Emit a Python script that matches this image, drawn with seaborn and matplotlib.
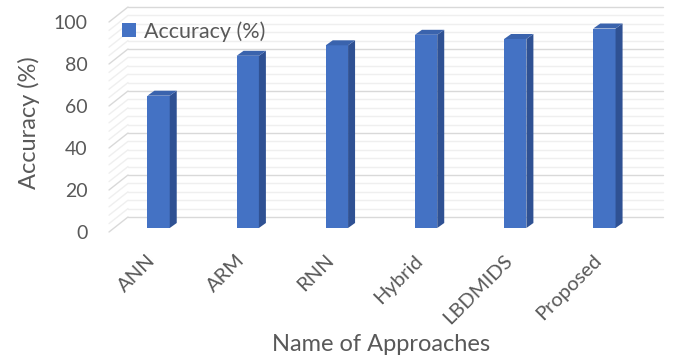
import numpy as np
import pandas as pd
import matplotlib
matplotlib.use('Agg')
import matplotlib.pyplot as plt
import seaborn as sns
from matplotlib.lines import Line2D
from matplotlib.patches import Polygon
from matplotlib.transforms import ScaledTranslation, IdentityTransform

# =====================================
# DATA
# =====================================

approaches = ['ANN', 'ARM', 'RNN', 'Hybrid', 'LBDMIDS', 'Proposed']
accuracy = [63, 82, 87, 92, 90, 95]
y_ticks = [0, 20, 40, 60, 80, 100]

df = pd.DataFrame({'Approach': approaches, 'Accuracy': accuracy})

# =====================================
# STYLE
# =====================================

sns.set_style('white')
plt.rcParams['font.family'] = ['Lato', 'DejaVu Sans']

text_col = '#595959'
front_col = '#4472c4'
side_col = '#2f5193'
top_col = '#3a63ad'

W, H = 683, 361
fig = plt.figure(figsize=(W / 100, H / 100), dpi=100)

# axes = plane of the bar fronts (pixels)
left, right, bottom, top = 114, 649, 228, 18
ax = fig.add_axes([left / W, 1 - bottom / H, (right - left) / W, (bottom - top) / H])

# back wall offset (px) and floor front offset (px)
back_dx, back_dy = 14, 11
front_dx, front_dy = -5, -4

# =====================================
# BACK WALL GRID
# =====================================

back_tr = ax.transData + ScaledTranslation(back_dx / 100, back_dy / 100, fig.dpi_scale_trans)

for v in np.arange(0, 101, 4):
    major = v % 20 == 0
    c = '#d9d9d9' if major else '#efefef'
    ax.add_line(Line2D([-0.5, 5.5], [v, v], color=c, lw=1.0,
                       transform=back_tr, zorder=0, clip_on=False))

# =====================================
# BARS
# =====================================

sns.barplot(data=df, x='Approach', y='Accuracy', color=front_col,
            width=0.25, saturation=1, ax=ax, label='Accuracy (%)',
            zorder=3, linewidth=0)

ax.set_xlim(-0.5, 5.5)
ax.set_ylim(0, 100)

fig.canvas.draw()

# side wall diagonals
for v in np.arange(0, 101, 4):
    major = v % 20 == 0
    c = '#d9d9d9' if major else '#efefef'
    px, py = ax.transData.transform((-0.5, v))
    ax.add_line(Line2D([px + front_dx, px + back_dx], [py + front_dy, py + back_dy],
                       color=c, lw=1.0, transform=IdentityTransform(),
                       zorder=0, clip_on=False))

# 3D faces of the bars
bd_x, bd_y = 7, 5
for p in ax.patches:
    x0 = p.get_x()
    x1 = x0 + p.get_width()
    h = p.get_height()
    (ax0, ay0) = ax.transData.transform((x0, 0))
    (ax1, ay1) = ax.transData.transform((x1, h))
    side = Polygon([(ax1, ay0), (ax1, ay1), (ax1 + bd_x, ay1 + bd_y), (ax1 + bd_x, ay0 + bd_y)],
                   closed=True, facecolor=side_col, edgecolor='none',
                   transform=IdentityTransform(), zorder=3, clip_on=False)
    topf = Polygon([(ax0, ay1), (ax1, ay1), (ax1 + bd_x, ay1 + bd_y), (ax0 + bd_x, ay1 + bd_y)],
                   closed=True, facecolor=top_col, edgecolor='none',
                   transform=IdentityTransform(), zorder=3, clip_on=False)
    ax.add_patch(side)
    ax.add_patch(topf)

# =====================================
# AXES / TEXT
# =====================================

sns.despine(ax=ax, left=True, bottom=True)
ax.set_yticks(y_ticks)
ax.set_yticklabels([str(t) for t in y_ticks])
ax.tick_params(axis='y', length=0, pad=19, labelsize=14, labelcolor=text_col)
ax.tick_params(axis='x', length=0, pad=17, labelsize=14.5, labelcolor=text_col)
plt.setp(ax.get_xticklabels(), rotation=45, ha='right', va='top')

# tick labels sit a bit lower (front of the floor)
shift = ScaledTranslation(0, -4 / 100, fig.dpi_scale_trans)
for lab in ax.get_yticklabels():
    lab.set_transform(lab.get_transform() + shift)

ax.set_ylabel('Accuracy (%)', fontsize=17, color=text_col, labelpad=10)
ax.set_xlabel('Name of Approaches', fontsize=17, color=text_col, labelpad=5)

ax.legend(loc='upper left', bbox_to_anchor=(0.015, 0.985), frameon=False,
          fontsize=15.5, labelcolor=text_col, handlelength=0.65, handleheight=0.65,
          handletextpad=0.35, borderaxespad=0, borderpad=0)

fig.savefig('out.png', dpi=100)
